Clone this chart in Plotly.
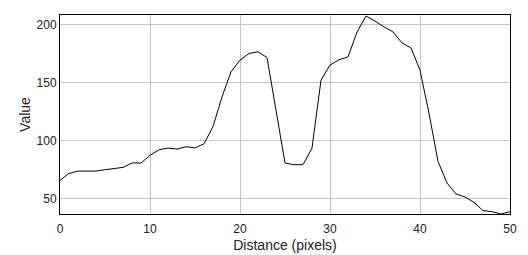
import plotly.graph_objects as go

distance = list(range(0, 51))
value = [66, 72, 74, 74, 74, 75.2, 76.3, 77.2, 81, 81,
         87.5, 92.4, 93.8, 93, 95, 94, 97.5, 112.4, 138, 159.6,
         169.7, 175.4, 176.8, 172, 126.5, 81, 79.5, 79.5, 93.8, 152.5,
         165.4, 170, 172.5, 193.9, 207.7, 203.4, 198.3, 194, 184.5, 180.2,
         161, 123.9, 82.3, 63.7, 54.3, 51.7, 47, 40, 39, 37, 39]

x_ticks = [0, 10, 20, 30, 40, 50]
y_ticks = [50, 100, 150, 200]

fig = go.Figure(go.Scatter(x=distance, y=value, mode="lines",
                           line=dict(color="black", width=1)))

font = dict(family="Liberation Sans, Arial, sans-serif", size=12, color="#222")
fig.update_layout(
    width=528, height=255,
    margin=dict(l=60, r=18, t=15, b=41, autoexpand=False),
    paper_bgcolor="white", plot_bgcolor="white",
    showlegend=False, font=font,
    xaxis=dict(range=[0, 50], tickvals=x_ticks, showgrid=True, gridcolor="#c4c4c4",
               gridwidth=1, zeroline=False, showline=True, linecolor="black",
               linewidth=1, mirror=True, ticks="", ticklabelstandoff=4,
               automargin=False,
               title=dict(text="Distance (pixels)", standoff=4)),
    yaxis=dict(range=[37, 208.6], tickvals=y_ticks, showgrid=True, gridcolor="#c4c4c4",
               gridwidth=1, zeroline=False, showline=True, linecolor="black",
               linewidth=1, mirror=True, ticks="", ticklabelstandoff=0,
               automargin=False,
               title=dict(text="Value", standoff=2)),
)

fig.write_html("out.html")
